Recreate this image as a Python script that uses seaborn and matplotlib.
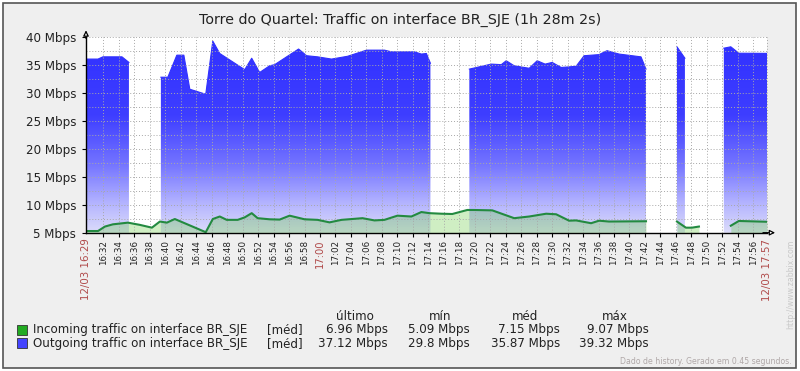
import numpy as np
import pandas as pd
import matplotlib
matplotlib.use("Agg")
import matplotlib.pyplot as plt
import matplotlib.transforms as mtransforms
from matplotlib.patches import Rectangle
from matplotlib.colors import LinearSegmentedColormap
from matplotlib.ticker import MultipleLocator
import seaborn as sns

title = "Torre do Quartel: Traffic on interface BR_SJE (1h 28m 2s)"

# time in minutes after 16:00, NaN marks a hole in the history
nan = np.nan
out_time = [29.75, 31.30, 31.94, 34.40, 35.30, nan,
            39.43, 40.33, 41.49, 42.40, 43.17, 45.23, 46.14, 47.04, 50.27,
            51.17, 52.20, 53.49, 54.14, 57.23, 58.27, 59.69, 61.49, 63.56,
            66.01, 68.33, 69.23, 72.20, 73.10, 73.75, 74.27, nan,
            79.30, 82.14, 83.43, 84.07, 85.10, 87.04, 88.07, 89.10, 90.01,
            91.17, 93.10, 94.14, 96.07, 97.10, 98.65, 101.49, 102.14, nan,
            106.14, 107.17, nan,
            112.20, 113.10, 114.14, 117.78]
out_mbps = [36.1, 36.1, 36.5, 36.5, 35.5, nan,
            32.85, 32.85, 36.8, 36.8, 30.7, 29.8, 39.32, 37.1, 34.2,
            36.25, 33.7, 34.9, 35.1, 37.9, 36.7, 36.5, 36.1, 36.6,
            37.7, 37.7, 37.4, 37.4, 37.0, 37.1, 35.35, nan,
            34.3, 35.2, 35.1, 35.8, 34.9, 34.45, 35.8, 35.2, 35.5,
            34.6, 34.8, 36.7, 36.9, 37.6, 37.0, 36.5, 34.3, nan,
            38.3, 36.25, nan,
            38.05, 38.3, 37.15, 37.12]

in_time = [29.75, 31.30, 32.20, 33.23, 35.17, 36.72, 38.27, 39.30, 40.20,
           41.23, 45.23, 46.14, 47.04, 47.94, 49.36, 50.27, 51.17, 51.94,
           53.49, 54.78, 56.07, 58.01, 59.69, 61.23, 62.78, 65.49, 67.04,
           68.33, 70.01, 71.81, 73.10, 74.14, 75.69, 77.10, 79.04, 79.94,
           82.27, 85.10, 87.04, 89.23, 90.52, 92.20, 93.10, 95.04, 96.07,
           97.36, 102.14, nan,
           106.14, 107.30, 108.07, 108.98, nan,
           113.10, 114.14, 117.78]
in_mbps = [5.3, 5.3, 6.1, 6.5, 6.8, 6.4, 5.9, 7.0, 6.8,
           7.45, 5.09, 7.45, 7.9, 7.3, 7.3, 7.75, 8.5, 7.6,
           7.4, 7.35, 8.05, 7.4, 7.3, 6.85, 7.3, 7.6, 7.2,
           7.3, 8.05, 7.9, 8.7, 8.5, 8.4, 8.35, 9.07, 9.07,
           9.0, 7.6, 7.9, 8.4, 8.3, 7.15, 7.2, 6.7, 7.15,
           7.0, 7.05, nan,
           7.0, 5.9, 5.9, 6.1, nan,
           6.25, 7.1, 6.96]

t_start, t_end = 29.75, 117.78
y_ticks = [5, 10, 15, 20, 25, 30, 35, 40]
y_tick_labels = [f"{v} Mbps" for v in y_ticks]
x_ticks = list(range(32, 117, 2))
x_tick_labels = [f"{16 + m // 60}:{m % 60:02d}" for m in x_ticks]
edge_labels = ["12/03 16:29", "12/03 17:57"]

legend_names = ["Incoming traffic on interface BR_SJE",
                "Outgoing traffic on interface BR_SJE"]
legend_cols = ["último", "mín", "méd", "máx"]
in_stats = ["6.96 Mbps", "5.09 Mbps", "7.15 Mbps", "9.07 Mbps"]
out_stats = ["37.12 Mbps", "29.8 Mbps", "35.87 Mbps", "39.32 Mbps"]

RED = "#b04a4a"
GREEN_LINE = "#238a40"
GREEN_FILL = "#62c83a"
W, H = 800, 371


def to_frame(times, values):
    df = pd.DataFrame({"t": times, "v": values})
    df["seg"] = df["v"].isna().cumsum()
    return df.dropna()


out_df = to_frame(out_time, out_mbps)
in_df = to_frame(in_time, in_mbps)

plt.rcParams["font.family"] = ["DejaVu Sans"]
fig = plt.figure(figsize=(W / 100, H / 100), dpi=100)
fig.patch.set_facecolor("white")
fig.patches.append(Rectangle((3 / W, 3 / H), 793 / W, 365 / H,
                             transform=fig.transFigure, facecolor="#efefef",
                             edgecolor="#555555", lw=1.2, zorder=-5))

ax = fig.add_axes([86 / W, 1 - 232.7 / H, 681 / W, 195.4 / H])
ax.set_facecolor("white")

# outgoing: gradient filled area
blue_cmap = LinearSegmentedColormap.from_list(
    "zbx", [(0, "#dcdcfa"), (0.15, "#b4b4ff"), (0.35, "#7474ff"),
            (0.6, "#3e3eff"), (1, "#3030ff")])
grad = np.linspace(0, 1, 256).reshape(-1, 1)
for seg, d in out_df.groupby("seg"):
    poly = ax.fill_between(d["t"], 5, d["v"], color="none", lw=0)
    im = ax.imshow(grad, cmap=blue_cmap, origin="lower", aspect="auto",
                   extent=[t_start, t_end, 5, 40], zorder=1)
    im.set_clip_path(poly.get_paths()[0], transform=ax.transData)
sns.lineplot(data=out_df, x="t", y="v", units="seg", estimator=None,
             color="#3030ff", lw=0.8, ax=ax, zorder=1.5)

# incoming: line with translucent fill
for seg, d in in_df.groupby("seg"):
    ax.fill_between(d["t"], 5, d["v"], color=GREEN_FILL, alpha=0.3, lw=0, zorder=2)
sns.lineplot(data=in_df, x="t", y="v", units="seg", estimator=None,
             color=GREEN_LINE, lw=1.5, ax=ax, zorder=3)

ax.set_xlim(t_start, t_end)
ax.set_ylim(5, 40)
ax.set(xlabel="", ylabel="")
ax.set_yticks(y_ticks, labels=y_tick_labels)
ax.yaxis.set_minor_locator(MultipleLocator(2.5))
ax.set_xticks(x_ticks, labels=x_tick_labels)
ax.set_axisbelow(False)
grid_kw = dict(color="#a8a8a8", linestyle=(0, (1, 2)), linewidth=0.7)
ax.grid(which="both", axis="y", **grid_kw)
ax.grid(which="major", axis="x", **grid_kw)
ax.axvline(t_end, clip_on=False, **grid_kw)

for s in ["top", "right"]:
    ax.spines[s].set_visible(False)
for s in ["left", "bottom"]:
    ax.spines[s].set_color("black")
    ax.spines[s].set_linewidth(1.0)
    ax.spines[s].set_zorder(4)

ax.tick_params(axis="y", which="major", length=3, labelsize=8.6, pad=4,
               labelcolor="#222222")
ax.tick_params(axis="y", which="minor", length=0)
ax.tick_params(axis="x", which="major", length=3, labelsize=6.3, pad=2,
               rotation=90, labelcolor="#222222")
for lab in ax.get_xticklabels():
    if lab.get_text() == "17:00":
        lab.set_color(RED)
        lab.set_fontsize(7.2)

trans = mtransforms.blended_transform_factory(ax.transData, ax.transAxes)
for t, lab in zip([t_start, t_end], edge_labels):
    ax.text(t, -0.03, lab, transform=trans, rotation=90, ha="center",
            va="top", fontsize=7.4, color=RED)

# axis arrows
ax.annotate("", xy=(0, 1.05), xytext=(0, 0.98), xycoords="axes fraction",
            arrowprops=dict(arrowstyle="-|>", ec="black", fc="white", lw=0.9,
                            mutation_scale=8))
ax.annotate("", xy=(1.016, 0), xytext=(0.99, 0), xycoords="axes fraction",
            arrowprops=dict(arrowstyle="-|>", ec="black", fc="white", lw=0.9,
                            mutation_scale=8))

fig.text(0.5, 1 - 20 / H, title, ha="center", va="center", fontsize=10.3,
         color="#222222")

# legend
for i, (name, col, stats) in enumerate(zip(legend_names, ["#22aa22", "#4444ff"],
                                           [in_stats, out_stats])):
    yc = 330 + i * 13.3
    fig.patches.append(Rectangle((17 / W, 1 - (yc + 5) / H), 10 / W, 10 / H,
                                 transform=fig.transFigure, facecolor=col,
                                 edgecolor="#333333", lw=0.6))
    fig.text(33 / W, 1 - yc / H, name, ha="left", va="center", fontsize=8.6,
             color="#222222")
    fig.text(267 / W, 1 - yc / H, "[méd]", ha="left", va="center",
             fontsize=8.6, color="#222222")
    for xr, s in zip([388, 470, 560, 649], stats):
        fig.text(xr / W, 1 - yc / H, s, ha="right", va="center",
                 fontsize=8.6, color="#222222")
for xc, h in zip([354.5, 440, 525, 615], legend_cols):
    fig.text(xc / W, 1 - 316 / H, h, ha="center", va="center", fontsize=8.6,
             color="#222222")

fig.text(792 / W, 1 - 362 / H, "Dado de history. Gerado em 0.45 segundos.",
         ha="right", va="center", fontsize=5.6, color="#b0a8a8")
fig.text(791 / W, 1 - 284 / H, "http://www.zabbix.com", rotation=90,
         ha="center", va="center", fontsize=5.6, color="#c8c8c8")

fig.savefig("out.png", dpi=100, facecolor=fig.get_facecolor())
